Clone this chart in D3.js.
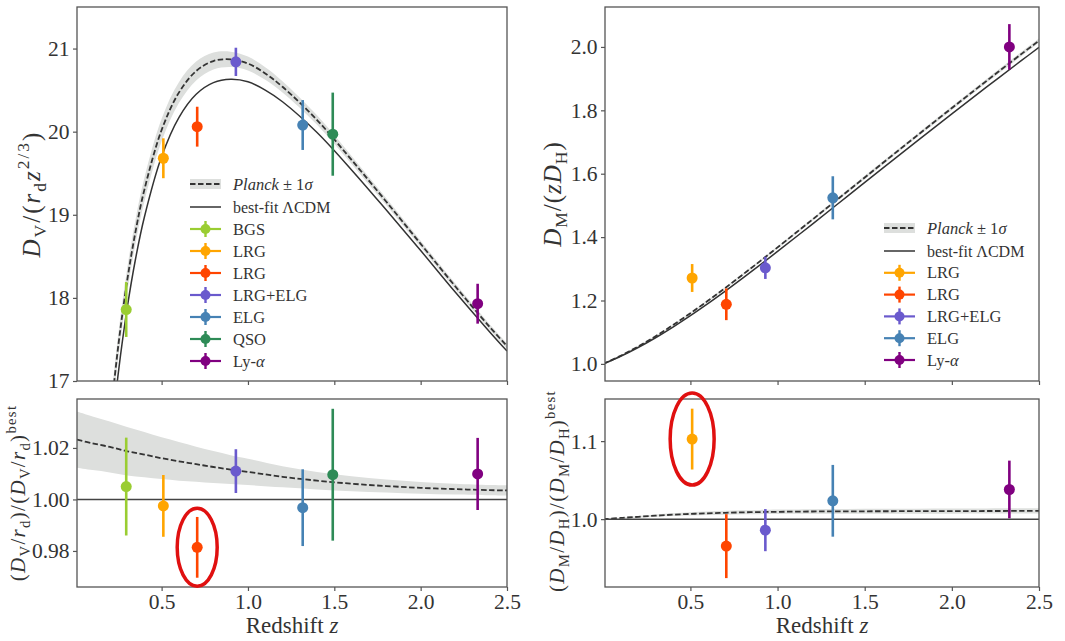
<!DOCTYPE html>
<html>
<head>
<meta charset="utf-8">
<title>BAO distance measurements vs redshift</title>
<script src="https://cdn.jsdelivr.net/npm/d3@7"></script>
<style>
  body { margin: 0; background: #fff; }
</style>
</head>
<body>
<svg id="chart" width="1065" height="641"></svg>
<script>
// ---- model curves ----
const zDv = [0.2, 0.25, 0.3, 0.35, 0.4, 0.5, 0.6, 0.7, 0.8, 0.9, 1.0, 1.1, 1.2, 1.4, 1.6, 1.8, 2.0, 2.2, 2.4, 2.5];
const dvBest   = [16.16, 17.11, 17.87, 18.48, 18.97, 19.70, 20.17, 20.45, 20.59, 20.63, 20.60, 20.50, 20.36, 19.99, 19.54, 19.06, 18.57, 18.07, 17.59, 17.36];
const dvPlanck = [16.49, 17.44, 18.20, 18.81, 19.30, 20.02, 20.47, 20.73, 20.85, 20.87, 20.82, 20.70, 20.54, 20.14, 19.66, 19.16, 18.65, 18.14, 17.65, 17.42];
const dvPlanckErr = [0.14, 0.145, 0.146, 0.145, 0.143, 0.136, 0.126, 0.114, 0.103, 0.093, 0.084, 0.076, 0.068, 0.057, 0.048, 0.042, 0.038, 0.035, 0.033, 0.033];

const zRatio = [0.01, 0.1, 0.2, 0.3, 0.4, 0.5, 0.6, 0.7, 0.8, 0.9, 1.0, 1.2, 1.4, 1.6, 1.8, 2.0, 2.2, 2.4, 2.5];
const dvRatio    = [1.0232, 1.0218, 1.0204, 1.0187, 1.0174, 1.0160, 1.0148, 1.0137, 1.0126, 1.0116, 1.0107, 1.0088, 1.0073, 1.0061, 1.0052, 1.0045, 1.0040, 1.0036, 1.0035];
const dvRatioErr = [0.0109, 0.0104, 0.0099, 0.0094, 0.0088, 0.0081, 0.0075, 0.0068, 0.0062, 0.0056, 0.0051, 0.0041, 0.0034, 0.0029, 0.0025, 0.0023, 0.0021, 0.0020, 0.0020];

const zDm = [0.0, 0.1, 0.2, 0.3, 0.4, 0.5, 0.6, 0.7, 0.8, 0.9, 1.0, 1.2, 1.4, 1.6, 1.8, 2.0, 2.2, 2.4, 2.5];
const dmBest   = [1.0, 1.0240, 1.0517, 1.0825, 1.1162, 1.1522, 1.1901, 1.2297, 1.2705, 1.3123, 1.3548, 1.4412, 1.5285, 1.6159, 1.7028, 1.7888, 1.8737, 1.9574, 1.9987];
const dmPlanck = [1.0, 1.0255, 1.0549, 1.0873, 1.1226, 1.1599, 1.1990, 1.2397, 1.2816, 1.3242, 1.3675, 1.4553, 1.5438, 1.6322, 1.7202, 1.8072, 1.8932, 1.9780, 2.0197];
const dmPlanckErr = [0, 0.0006, 0.0012, 0.0016, 0.0020, 0.0024, 0.0027, 0.0031, 0.0033, 0.0035, 0.0038, 0.0043, 0.0047, 0.0052, 0.0054, 0.0059, 0.0062, 0.0065, 0.0066];
const dmRatio    = [1.0, 1.0015, 1.0030, 1.0044, 1.0057, 1.0067, 1.0075, 1.0081, 1.0087, 1.0091, 1.0094, 1.0098, 1.0100, 1.0101, 1.0102, 1.0103, 1.0104, 1.0105, 1.0105];
const dmRatioErr = [0, 0.0006, 0.0011, 0.0015, 0.0018, 0.0021, 0.0023, 0.0025, 0.0026, 0.0027, 0.0028, 0.0030, 0.0031, 0.0032, 0.0032, 0.0033, 0.0033, 0.0033, 0.0033];

// ---- measurements ----
const dvNames  = ["BGS", "LRG", "LRG", "LRG+ELG", "ELG", "QSO", "Ly-α"];
const dvColors = ["#9acd32", "#ffa500", "#ff4500", "#6a5acd", "#4682b4", "#2e8b57", "#800080"];
const dvZ      = [0.295, 0.510, 0.706, 0.930, 1.317, 1.491, 2.330];
const dvVal    = [17.86, 19.68, 20.06, 20.84, 20.08, 19.97, 17.93];
const dvErr    = [0.33, 0.24, 0.24, 0.17, 0.30, 0.50, 0.24];
const dvRel    = [1.0050, 0.9975, 0.9814, 1.0110, 0.9968, 1.0096, 1.0099];
const dvRelErr = [0.019, 0.012, 0.0118, 0.0085, 0.0149, 0.0256, 0.014];

const dmNames  = ["LRG", "LRG", "LRG+ELG", "ELG", "Ly-α"];
const dmColors = ["#ffa500", "#ff4500", "#6a5acd", "#4682b4", "#800080"];
const dmZ      = [0.510, 0.706, 0.930, 1.317, 2.330];
const dmVal    = [1.271, 1.188, 1.303, 1.524, 2.000];
const dmErr    = [0.044, 0.050, 0.035, 0.068, 0.072];
const dmRel    = [1.1026, 0.9654, 0.9859, 1.0235, 1.038];
const dmRelErr = [0.039, 0.041, 0.027, 0.046, 0.037];

const xTicks = [0.5, 1.0, 1.5, 2.0, 2.5];

// ---- layout ----
const FONT = "'Liberation Serif'";
const svg = d3.select("#chart");
const curve = d3.curveCatmullRom.alpha(0.5);

const xL = d3.scaleLinear().domain([0.01, 2.5]).range([77, 507]);
const xR = d3.scaleLinear().domain([0.01, 2.5]).range([605, 1039]);
const yTL = d3.scaleLinear().domain([17, 21.5]).range([381, 7]);
const yBL = d3.scaleLinear().domain([0.966, 1.039]).range([587, 399]);
const yTR = d3.scaleLinear().domain([0.946, 2.126]).range([381, 7]);
const yBR = d3.scaleLinear().domain([0.913, 1.154]).range([587, 399]);

// text with italic / sub / sup parts
function rich(t, parts, size) {
  let cur = 0;
  parts.forEach(([s, f = ""]) => {
    const small = f.includes("_") || f.includes("^");
    const target = f.includes("_") ? size * 0.25 : f.includes("^") ? -size * 0.45 : 0;
    t.append("tspan")
      .attr("dy", target - cur)
      .attr("font-size", small ? size * 0.7 : size)
      .attr("font-style", f.includes("i") ? "italic" : "normal")
      .text(s);
    cur = target;
  });
}

let clipId = 0;
function panel(x, y, yTicks, yFmt, xLabels) {
  const [x0, x1] = x.range(), [y1, y0] = y.range();
  const id = "clip" + (clipId++);
  svg.append("clipPath").attr("id", id)
    .append("rect").attr("x", x0).attr("y", y0).attr("width", x1 - x0).attr("height", y1 - y0);
  const g = svg.append("g");
  const plot = g.append("g").attr("clip-path", `url(#${id})`);

  const ax = g.append("g").attr("transform", `translate(0,${y1})`)
    .call(d3.axisBottom(x).tickValues(xTicks).tickSize(4).tickPadding(3)
      .tickFormat(xLabels ? d3.format(".1f") : ""));
  const ay = g.append("g").attr("transform", `translate(${x0},0)`)
    .call(d3.axisLeft(y).tickValues(yTicks).tickSize(4).tickPadding(3.5).tickFormat(yFmt));
  [ax, ay].forEach(a => {
    a.select(".domain").remove();
    a.selectAll("line").attr("stroke", "#555").attr("stroke-width", 1.2);
    a.selectAll("text").attr("font-size", 21.5);
  });
  g.append("rect").attr("x", x0).attr("y", y0).attr("width", x1 - x0).attr("height", y1 - y0)
    .attr("fill", "none").attr("stroke", "#555").attr("stroke-width", 1.3);
  return plot;
}

function band(g, x, y, zs, mid, err) {
  const rows = zs.map((z, i) => ({ z, lo: mid[i] - err[i], hi: mid[i] + err[i] }));
  g.append("path").datum(rows).attr("fill", "#dddfdd")
    .attr("d", d3.area().x(d => x(d.z)).y0(d => y(d.lo)).y1(d => y(d.hi)).curve(curve));
}

function line(g, x, y, zs, vals, dashed) {
  const rows = zs.map((z, i) => ({ z, v: vals[i] }));
  g.append("path").datum(rows).attr("fill", "none")
    .attr("stroke", "#333").attr("stroke-width", dashed ? 1.8 : 1.5)
    .attr("stroke-dasharray", dashed ? "5.5,2.5" : null)
    .attr("d", d3.line().x(d => x(d.z)).y(d => y(d.v)).curve(curve));
}

function hline(g, x, y, v) {
  g.append("line").attr("x1", x.range()[0]).attr("x2", x.range()[1])
    .attr("y1", y(v)).attr("y2", y(v)).attr("stroke", "#444").attr("stroke-width", 1.5);
}

function points(g, x, y, zs, vals, errs, colors) {
  const rows = zs.map((z, i) => ({ z, v: vals[i], e: errs[i], c: colors[i] }));
  g.selectAll(null).data(rows).join("line")
    .attr("x1", d => x(d.z)).attr("x2", d => x(d.z))
    .attr("y1", d => y(d.v - d.e)).attr("y2", d => y(d.v + d.e))
    .attr("stroke", d => d.c).attr("stroke-width", 2.6);
  g.selectAll(null).data(rows).join("circle")
    .attr("cx", d => x(d.z)).attr("cy", d => y(d.v)).attr("r", 5.5)
    .attr("fill", d => d.c);
}

function legend(lx, ly, step, names, colors) {
  const g = svg.append("g").attr("transform", `translate(${lx},${ly})`);
  const fs = 16;
  g.append("rect").attr("x", 0).attr("y", -5).attr("width", 31).attr("height", 10).attr("fill", "#dddfdd");
  g.append("line").attr("x1", 0).attr("x2", 31).attr("y1", 0).attr("y2", 0)
    .attr("stroke", "#333").attr("stroke-width", 1.8).attr("stroke-dasharray", "5.5,2.5");
  rich(g.append("text").attr("x", 43).attr("y", 5.5), [["Planck", "i"], [" ± 1"], ["σ", "i"]], fs + 0.5);
  const yb = 23;
  g.append("line").attr("x1", 0).attr("x2", 31).attr("y1", yb).attr("y2", yb)
    .attr("stroke", "#333").attr("stroke-width", 1.5);
  g.append("text").attr("x", 43).attr("y", yb + 5.5).attr("font-size", fs).text("best-fit ΛCDM");
  names.forEach((n, i) => {
    const yy = yb + step * (i + 1);
    const c = colors[i];
    g.append("line").attr("x1", 0).attr("x2", 31).attr("y1", yy).attr("y2", yy).attr("stroke", c).attr("stroke-width", 2.2);
    g.append("line").attr("x1", 15.5).attr("x2", 15.5).attr("y1", yy - 8).attr("y2", yy + 8).attr("stroke", c).attr("stroke-width", 2.4);
    g.append("circle").attr("cx", 15.5).attr("cy", yy).attr("r", 5).attr("fill", c);
    const t = g.append("text").attr("x", 43).attr("y", yy + 5.5);
    if (n === "Ly-α") rich(t, [["Ly-"], ["α", "i"]], fs + 0.5);
    else t.attr("font-size", fs + 0.5).text(n);
  });
}

function yLabel(x, y, parts, size, spacing) {
  const t = svg.append("text").attr("transform", `translate(${x},${y}) rotate(-90)`)
    .attr("text-anchor", "middle").attr("letter-spacing", spacing);
  rich(t, parts, size);
}

// ---- top left: D_V ----
const pTL = panel(xL, yTL, [17, 18, 19, 20, 21], d3.format("d"), false);
band(pTL, xL, yTL, zDv, dvPlanck, dvPlanckErr);
line(pTL, xL, yTL, zDv, dvPlanck, true);
line(pTL, xL, yTL, zDv, dvBest, false);
points(pTL, xL, yTL, dvZ, dvVal, dvErr, dvColors);
legend(190, 184, 22, dvNames, dvColors);

// ---- bottom left: D_V ratio ----
const pBL = panel(xL, yBL, [0.98, 1.00, 1.02], d3.format(".2f"), true);
band(pBL, xL, yBL, zRatio, dvRatio, dvRatioErr);
line(pBL, xL, yBL, zRatio, dvRatio, true);
hline(pBL, xL, yBL, 1.0);
points(pBL, xL, yBL, dvZ, dvRel, dvRelErr, dvColors);

// ---- top right: D_M / z D_H ----
const pTR = panel(xR, yTR, [1.0, 1.2, 1.4, 1.6, 1.8, 2.0], d3.format(".1f"), false);
band(pTR, xR, yTR, zDm, dmPlanck, dmPlanckErr);
line(pTR, xR, yTR, zDm, dmPlanck, true);
line(pTR, xR, yTR, zDm, dmBest, false);
points(pTR, xR, yTR, dmZ, dmVal, dmErr, dmColors);
legend(884, 228, 21.8, dmNames, dmColors);

// ---- bottom right: D_M/D_H ratio ----
const pBR = panel(xR, yBR, [1.0, 1.1], d3.format(".1f"), true);
band(pBR, xR, yBR, zDm, dmRatio, dmRatioErr);
line(pBR, xR, yBR, zDm, dmRatio, true);
hline(pBR, xR, yBR, 1.0);
points(pBR, xR, yBR, dmZ, dmRel, dmRelErr, dmColors);

// red highlight rings on the outliers
svg.append("ellipse").attr("cx", xL(dvZ[2])).attr("cy", yBL(dvRel[2])).attr("rx", 20).attr("ry", 39)
  .attr("fill", "none").attr("stroke", "#e01010").attr("stroke-width", 3.5);
svg.append("ellipse").attr("cx", xR(dmZ[0])).attr("cy", yBR(dmRel[0])).attr("rx", 22).attr("ry", 46)
  .attr("fill", "none").attr("stroke", "#e01010").attr("stroke-width", 3.5);

// axis titles
yLabel(40, 194, [["D", "i"], ["V", "_"], ["/("], ["r", "i"], ["d", "_"], ["z", "i"], ["2/3", "^"], [")"]], 25, 2);
yLabel(561, 194, [["D", "i"], ["M", "_"], ["/("], ["zD", "i"], ["H", "_"], [")"]], 25, 1);
yLabel(25, 493, [["("], ["D", "i"], ["V", "_"], ["/"], ["r", "i"], ["d", "_"], [")/("], ["D", "i"], ["V", "_"], ["/"], ["r", "i"], ["d", "_"], [")"], ["best", "^"]], 21, 1.3);
yLabel(564, 491, [["("], ["D", "i"], ["M", "_"], ["/"], ["D", "i"], ["H", "_"], [")/("], ["D", "i"], ["M", "_"], ["/"], ["D", "i"], ["H", "_"], [")"], ["best", "^"]], 21, 1.3);

[292, 822].forEach(cx => {
  const t = svg.append("text").attr("x", cx).attr("y", 633).attr("text-anchor", "middle");
  rich(t, [["Redshift "], ["z", "i"]], 23);
});

// one serif face for every label
svg.selectAll("g").attr("font-family", null);
svg.selectAll("text, tspan").style("font-family", FONT).attr("font-family", null);
svg.selectAll("text").attr("fill", "#333");
</script>
</body>
</html>
